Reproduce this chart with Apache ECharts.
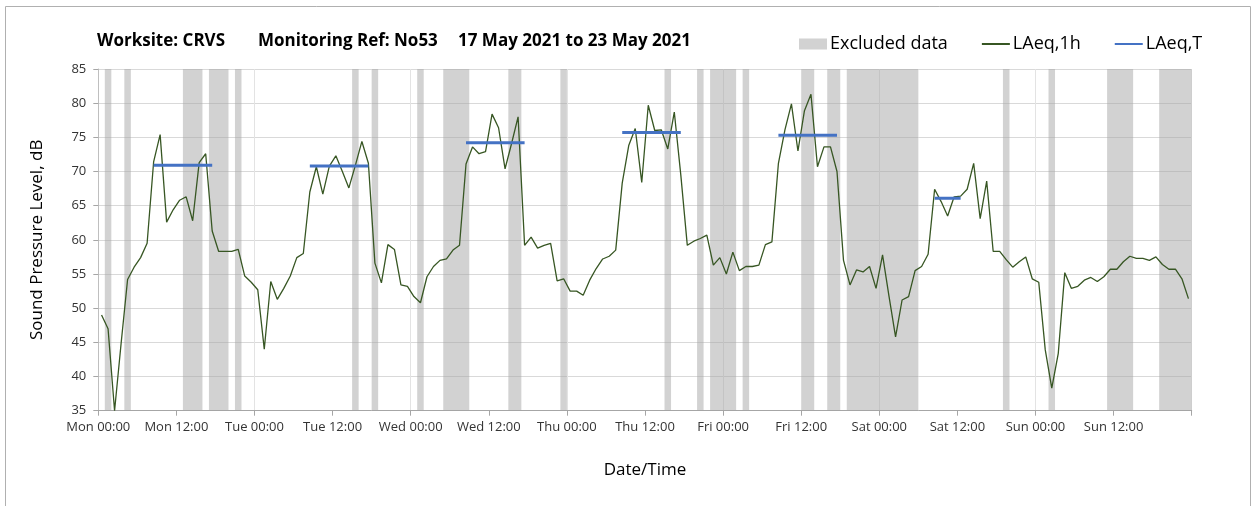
<!DOCTYPE html>
<html>
<head>
<meta charset="utf-8">
<script src="https://cdn.jsdelivr.net/npm/echarts@6/dist/echarts.min.js"></script>
<style>
  html, body { margin: 0; padding: 0; background: #fff; }
  #chart { width: 1253px; height: 506px; }
</style>
</head>
<body>
<div id="chart"></div>
<script>
// ---- Data (hour index 0 = Mon 00:00, one value per hour, plotted at mid-hour) ----
const titleParts = ['Worksite: CRVS', 'Monitoring Ref: No53', '17 May 2021 to 23 May 2021'];
const xTickLabels = ['Mon 00:00', 'Mon 12:00', 'Tue 00:00', 'Tue 12:00', 'Wed 00:00', 'Wed 12:00',
  'Thu 00:00', 'Thu 12:00', 'Fri 00:00', 'Fri 12:00', 'Sat 00:00', 'Sat 12:00', 'Sun 00:00', 'Sun 12:00', ''];

const laeq1hMon = [49.0, 47.0, 35.0, 44.8, 54.2, 56.0, 57.4, 59.5, 71.4, 75.4, 62.6, 64.4,
  65.8, 66.3, 62.8, 71.3, 72.6, 61.3, 58.3, 58.3, 58.3, 58.6, 54.7, 53.8];
const laeq1hTue = [52.7, 44.0, 53.9, 51.3, 52.9, 54.7, 57.4, 58.0, 67.0, 70.7, 66.7, 70.8,
  72.3, 70.0, 67.6, 70.9, 74.4, 71.2, 56.6, 53.7, 59.3, 58.6, 53.4, 53.2];
const laeq1hWed = [51.7, 50.8, 54.6, 56.1, 57.0, 57.2, 58.5, 59.2, 71.1, 73.6, 72.6, 72.9,
  78.4, 76.4, 70.4, 74.1, 78.0, 59.2, 60.4, 58.8, 59.2, 59.5, 54.0, 54.3];
const laeq1hThu = [52.5, 52.5, 51.9, 54.1, 55.8, 57.2, 57.6, 58.5, 68.3, 73.8, 76.3, 68.4,
  79.7, 76.0, 76.1, 73.3, 78.7, 69.5, 59.2, 59.8, 60.2, 60.7, 56.3, 57.4];
const laeq1hFri = [55.0, 58.2, 55.5, 56.1, 56.1, 56.3, 59.3, 59.7, 71.2, 76.1, 79.9, 73.0,
  78.9, 81.3, 70.7, 73.6, 73.6, 70.0, 57.0, 53.4, 55.6, 55.3, 56.1, 52.9];
const laeq1hSat = [57.8, 51.7, 45.8, 51.2, 51.7, 55.5, 56.1, 57.9, 67.4, 65.6, 63.5, 66.3,
  66.4, 67.4, 71.2, 63.1, 68.6, 58.3, 58.3, 57.1, 56.0, 56.8, 57.5, 54.3];
const laeq1hSun = [53.8, 43.9, 38.3, 43.4, 55.2, 52.9, 53.2, 54.1, 54.5, 53.9, 54.6, 55.7,
  55.7, 56.8, 57.6, 57.3, 57.3, 57.0, 57.5, 56.4, 55.7, 55.7, 54.3, 51.4];

// Excluded hours (hour index)
const excludedHours = [1, 4, 13, 14, 15, 17, 18, 19, 21, 39, 42, 49, 53, 54, 55, 56, 63, 64, 71,
  87, 92, 94, 95, 96, 97, 99, 108, 109, 112, 113, 115, 116, 117, 118, 119, 120, 121, 122, 123,
  124, 125, 139, 146, 155, 156, 157, 158, 163, 164, 165, 166, 167];

// LAeq,T periods: first hour, last hour, level
const laeqTStart = [8, 32, 56, 80, 104, 128];
const laeqTEnd   = [17, 41, 65, 89, 113, 132];
const laeqTValue = [70.9, 70.8, 74.2, 75.7, 75.3, 66.1];

// ---- Build series data ----
const laeq1h = [].concat(laeq1hMon, laeq1hTue, laeq1hWed, laeq1hThu, laeq1hFri, laeq1hSat, laeq1hSun);
const lineData = laeq1h.map((v, i) => [i + 0.5, v]);

const runs = [];
excludedHours.forEach(h => {
  const last = runs[runs.length - 1];
  if (last && last[1] === h) last[1] = h + 1; else runs.push([h, h + 1]);
});

const tData = [];
laeqTStart.forEach((s, k) => {
  tData.push([s + 0.5, laeqTValue[k]]);
  tData.push([laeqTEnd[k] + 0.5, laeqTValue[k]]);
  tData.push([laeqTEnd[k] + 0.5, '-']);
});

const Y_MIN = 35, Y_MAX = 85;
const FONT = 'Open Sans';
const chart = echarts.init(document.getElementById('chart'), null, { renderer: 'canvas' });

const titleStyle = { fontFamily: FONT, fontWeight: 'bold', fontSize: 17, color: '#000' };

chart.setOption({
  backgroundColor: '#ffffff',
  animation: false,
  textStyle: { fontFamily: FONT },
  graphic: [{
    type: 'rect', z: -10, silent: true,
    shape: { x: 5.5, y: 6.5, width: 1245, height: 520 },
    style: { fill: 'none', stroke: '#b0b0b0', lineWidth: 1 }
  }],
  title: [
    { text: titleParts[0], left: 97, top: 33, padding: 0, textStyle: titleStyle },
    { text: titleParts[1], left: 258, top: 33, padding: 0, textStyle: titleStyle },
    { text: titleParts[2], left: 458, top: 33, padding: 0, textStyle: titleStyle }
  ],
  legend: {
    left: 799, top: 33, padding: 0,
    itemWidth: 28, itemHeight: 11, itemGap: 33,
    textStyle: { fontFamily: FONT, fontSize: 18, color: '#000', lineHeight: 22, padding: [0, 0, 0, -2] },
    data: [
      { name: 'Excluded data', icon: 'rect' },
      { name: 'LAeq,1h', itemStyle: { opacity: 0 } },
      { name: 'LAeq,T', itemStyle: { opacity: 0 } }
    ]
  },
  grid: { left: 98.3, right: 61.3, top: 69, bottom: 95.3, containLabel: false },
  xAxis: [{
    type: 'value', min: 0, max: 168, interval: 12,
    name: 'Date/Time', nameLocation: 'middle', nameGap: 51,
    nameTextStyle: { fontFamily: FONT, fontSize: 17, color: '#000' },
    axisLine: { show: true, onZero: false, lineStyle: { color: '#a6a6a6', width: 1 } },
    axisTick: { show: true, length: 5, lineStyle: { color: '#a6a6a6' } },
    axisLabel: { show: true, margin: 10, fontFamily: FONT, fontSize: 13, color: '#333333',
      formatter: v => xTickLabels[Math.round(v / 12)] || '' },
    splitLine: { show: false }
  }, {
    type: 'value', min: 0, max: 168, interval: 24, position: 'bottom',
    axisLine: { show: false }, axisTick: { show: false }, axisLabel: { show: false },
    splitLine: { show: true, lineStyle: { color: '#e3e3e3', width: 1 } }
  }],
  yAxis: {
    type: 'value', min: Y_MIN, max: Y_MAX, interval: 5,
    name: 'Sound Pressure Level, dB', nameLocation: 'middle', nameGap: 53,
    nameTextStyle: { fontFamily: FONT, fontSize: 17, color: '#000' },
    axisLine: { show: true, lineStyle: { color: '#bfbfbf', width: 1 } },
    axisTick: { show: true, length: 5, lineStyle: { color: '#a6a6a6' } },
    axisLabel: { margin: 12, fontFamily: FONT, fontSize: 13, color: '#333333' },
    splitLine: { show: true, lineStyle: { color: '#d9d9d9', width: 1 } }
  },
  series: [
    {
      name: 'Excluded data', type: 'custom', z: 1,
      itemStyle: { color: 'rgba(166,166,166,0.5)' },
      encode: { x: [0, 1], y: 2 },
      data: runs.map(r => [r[0], r[1], Y_MAX]),
      renderItem: (params, api) => {
        const p0 = api.coord([api.value(0), Y_MAX]);
        const p1 = api.coord([api.value(1), Y_MIN]);
        return {
          type: 'rect',
          shape: { x: p0[0], y: p0[1], width: p1[0] - p0[0], height: p1[1] - p0[1] },
          style: { fill: 'rgba(166,166,166,0.5)' }
        };
      }
    },
    {
      name: 'LAeq,1h', type: 'line', z: 3,
      symbol: 'none', data: lineData,
      lineStyle: { color: '#375623', width: 1.3 },
      itemStyle: { color: '#375623' }
    },
    {
      name: 'LAeq,T', type: 'line', z: 4,
      symbol: 'none', data: tData, connectNulls: false,
      lineStyle: { color: '#4472c4', width: 3 },
      itemStyle: { color: '#4472c4' }
    }
  ]
});
</script>
</body>
</html>
